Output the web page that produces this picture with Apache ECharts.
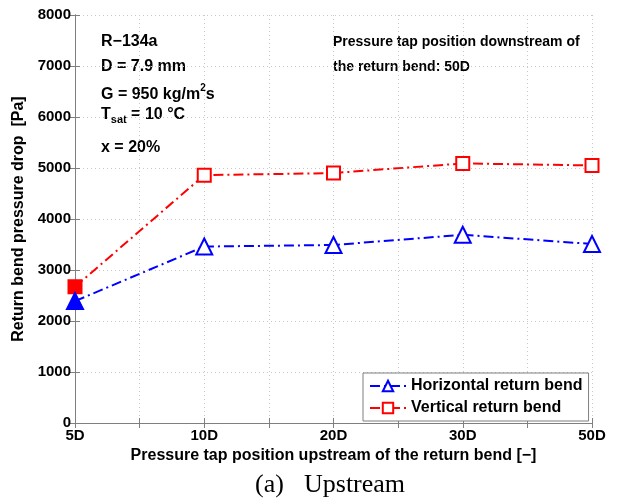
<!DOCTYPE html>
<html>
<head>
<meta charset="utf-8">
<script src="https://cdn.jsdelivr.net/npm/echarts@6/dist/echarts.min.js"></script>
<style>
  html, body { margin: 0; padding: 0; background: #fff; }
  #chart { width: 619px; height: 500px; }
</style>
</head>
<body>
<div id="chart"></div>
<script>
// Tap positions (evenly spaced on the axis, labels on every other grid line)
const tickLabels = ['5D', '', '10D', '', '20D', '', '30D', '', '50D'];
const tapIndex = [0, 2, 4, 6, 8];

// Return bend pressure drop [Pa]
const horizontalBend = [2390, 3460, 3490, 3690, 3510];
const verticalBend = [2670, 4860, 4900, 5090, 5050];

const FONT = 'Liberation Sans, Arial, sans-serif';
const axisGray = '#7f7f7f';
const gridGray = '#c8c8c8';
const dashDot = [10, 4, 2, 4];

function pairs(values) {
  return values.map((v, i) => ({ value: [tapIndex[i], v] }));
}

// First tap position is drawn with filled markers
const hData = pairs(horizontalBend);
hData[0].symbol = 'triangle';
const vData = pairs(verticalBend);
vData[0].symbol = 'rect';

const chart = echarts.init(document.getElementById('chart'), null, { renderer: 'canvas' });

const tickText = { color: '#000', fontFamily: FONT, fontWeight: 'bold', fontSize: 15 };
const nameText = { color: '#000', fontFamily: FONT, fontWeight: 'bold', fontSize: 16 };

chart.setOption({
  animation: false,
  backgroundColor: '#fff',
  grid: { left: 75, right: 27, top: 15, bottom: 77, containLabel: false },
  xAxis: [{
    type: 'value', min: 0, max: 8, interval: 1,
    name: 'Pressure tap position upstream of the return bend [\u2212]',
    nameLocation: 'middle', nameGap: 21,
    nameTextStyle: nameText,
    axisLine: { show: true, lineStyle: { color: axisGray, width: 1 } },
    axisTick: { show: true, inside: true, length: 5, lineStyle: { color: axisGray } },
    axisLabel: { ...tickText, margin: 5, formatter: v => tickLabels[v] || '' },
    splitLine: { show: true, lineStyle: { color: gridGray, type: [1, 3] } }
  }, {
    type: 'value', min: 0, max: 8, interval: 1, position: 'top',
    axisLine: { show: true, lineStyle: { color: axisGray, width: 1 } },
    axisTick: { show: true, inside: true, length: 5, lineStyle: { color: axisGray } },
    axisLabel: { show: false },
    splitLine: { show: false }
  }],
  yAxis: [{
    type: 'value', min: 0, max: 8000, interval: 1000,
    name: 'Return bend pressure drop  [Pa]',
    nameLocation: 'middle', nameGap: 46,
    nameTextStyle: nameText,
    axisLine: { show: true, lineStyle: { color: axisGray, width: 1 } },
    axisTick: { show: true, inside: true, length: 5, lineStyle: { color: axisGray } },
    axisLabel: { ...tickText, margin: 4, formatter: v => String(v) },
    splitLine: { show: true, lineStyle: { color: gridGray, type: [1, 3] } }
  }, {
    type: 'value', min: 0, max: 8000, interval: 1000, position: 'right',
    axisLine: { show: true, lineStyle: { color: axisGray, width: 1 } },
    axisTick: { show: true, inside: true, length: 5, lineStyle: { color: axisGray } },
    axisLabel: { show: false },
    splitLine: { show: false }
  }],
  legend: {
    left: 363, top: 373, orient: 'vertical',
    backgroundColor: '#fff', borderColor: axisGray, borderWidth: 1,
    padding: [5, 6, 5, 6], itemGap: 6, itemWidth: 36, itemHeight: 13,
    textStyle: { color: '#000', fontFamily: FONT, fontWeight: 'bold', fontSize: 16 },
    data: ['Horizontal return bend', 'Vertical return bend']
  },
  series: [{
    name: 'Horizontal return bend', type: 'line',
    data: hData, symbol: 'emptyTriangle', symbolSize: 16,
    lineStyle: { color: '#0000ff', width: 2, type: dashDot },
    itemStyle: { color: '#0000ff', borderColor: '#0000ff', borderWidth: 2 },
    z: 3
  }, {
    name: 'Vertical return bend', type: 'line',
    data: vData, symbol: 'emptyRect', symbolSize: 13,
    lineStyle: { color: '#ff0000', width: 2, type: dashDot },
    itemStyle: { color: '#ff0000', borderColor: '#ff0000', borderWidth: 2 },
    z: 2
  }],
  graphic: [
    { type: 'text', left: 101, top: 34, style: { text: 'R\u2212134a', fill: '#000', font: 'bold 16px ' + FONT } },
    { type: 'text', left: 101, top: 59, style: { text: 'D = 7.9 mm', fill: '#000', font: 'bold 16px ' + FONT } },
    { type: 'text', left: 101, top: 83, style: {
        text: '{a|G = 950 kg/m}{s|2}{a|s}',
        rich: {
          a: { fill: '#000', font: 'bold 16px ' + FONT, lineHeight: 20, verticalAlign: 'bottom' },
          s: { fill: '#000', font: 'bold 10px ' + FONT, lineHeight: 12, verticalAlign: 'top' }
        }
      } },
    { type: 'text', left: 101, top: 102, style: {
        text: '{a|T}{s|sat}{a| = 10 \u00b0C}',
        rich: {
          a: { fill: '#000', font: 'bold 16px ' + FONT, lineHeight: 18, verticalAlign: 'top' },
          s: { fill: '#000', font: 'bold 11px ' + FONT, lineHeight: 12, verticalAlign: 'bottom', padding: [12, 0, 0, 0] }
        }
      } },
    { type: 'text', left: 101, top: 140, style: { text: 'x = 20%', fill: '#000', font: 'bold 16px ' + FONT } },
    { type: 'text', left: 333, top: 35, style: { text: 'Pressure tap position downstream of', fill: '#000', font: 'bold 14px ' + FONT } },
    { type: 'text', left: 333, top: 60, style: { text: 'the return bend: 50D', fill: '#000', font: 'bold 14px ' + FONT } },
    { type: 'text', left: 255, top: 472, style: { text: '(a)', fill: '#000', font: '26px Liberation Serif, Times New Roman, serif' } },
    { type: 'text', left: 304, top: 472, style: { text: 'Upstream', fill: '#000', font: '26px Liberation Serif, Times New Roman, serif' } }
  ]
});
</script>
</body>
</html>
